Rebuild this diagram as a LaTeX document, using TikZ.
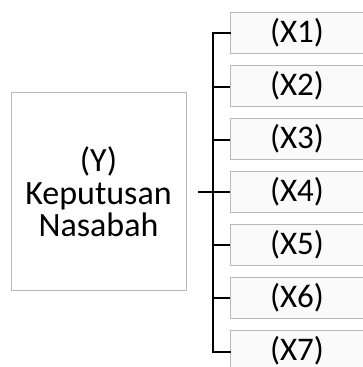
\documentclass[tikz,border=0pt]{standalone}
\usepackage{fontspec}
\setmainfont{Carlito}
\definecolor{boxline}{HTML}{B8B8B8}
\definecolor{boxfill}{HTML}{FAFAFA}
\tikzset{
  x=1pt,y=-1pt,
  xbox/.style={draw=boxline,fill=boxfill,line width=1.2pt,minimum width=150pt,minimum height=41pt,inner sep=0pt,anchor=north west},
  xlabel/.style={font=\fontsize{33}{33}\selectfont},
  conn/.style={line width=2pt,black},
  tick/.style={line width=1.4pt,black},
}
\begin{document}
\begin{tikzpicture}
\useasboundingbox (0,0) rectangle (363,367);
\clip (0,0) rectangle (363,367);
% Y box
\node[draw=boxline,fill=white,line width=1.2pt,minimum width=175pt,minimum height=198pt,inner sep=0pt,anchor=north west] (Y) at (11,92) {};
\node[font=\fontsize{34}{32.5}\selectfont,align=center] (Yt) at (98.5,192) {(Y)\\Keputusan\\Nasabah};
% X boxes
\foreach \i/\t in {1/12,2/65,3/118,4/171,5/224,6/277,7/330}{
  \node[xbox] (X\i) at (230,\t) {};
  \node[xlabel] (L\i) at (297,\t+21) {(X\i)};
}
% connectors
\coordinate (top) at (213,33);
\coordinate (bot) at (213,352);
\coordinate (mid) at (213,192);
\draw[conn,line cap=rect] (X1.west|-top) -- (top) -- (bot) -- (X7.west|-bot);
\draw[conn] (Y.east|-mid) ++(11,0) coordinate (ys) -- (mid);
\foreach \i/\yy in {2/87,3/140,4/192,5/245,6/298}{
  \draw[tick] (213,\yy) -- (X\i.west|-{0,\yy});
}
\end{tikzpicture}
\end{document}
